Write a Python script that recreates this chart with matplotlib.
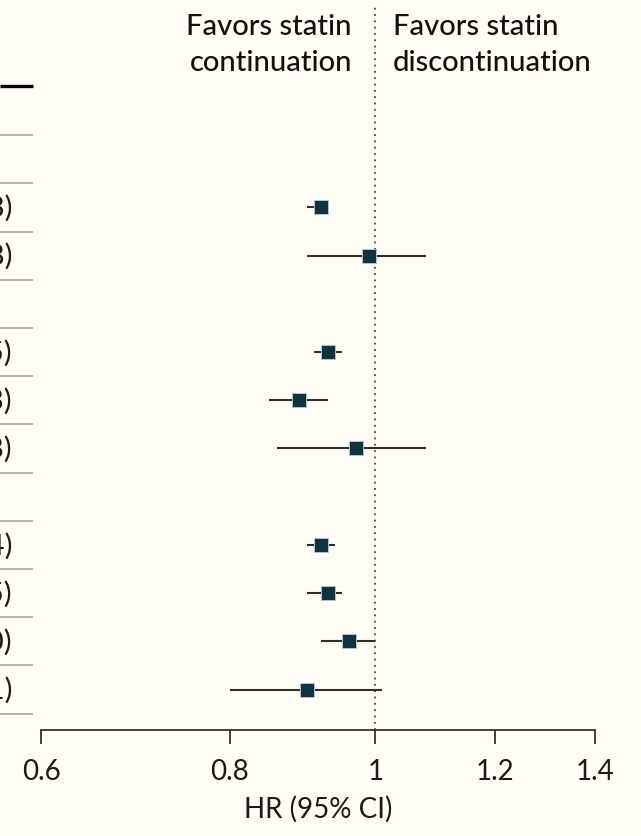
import numpy as np
import matplotlib.pyplot as plt
from matplotlib.transforms import blended_transform_factory

plt.rcParams['font.family'] = ['Lato', 'DejaVu Sans']

# one entry per table row, None = subgroup header row (no estimate)
hr = [None, None, 0.92, 0.99, None, 0.93, 0.89, 0.97, None, 0.92, 0.93, 0.96, 0.90]
ci_lo = [None, None, 0.90, 0.90, None, 0.91, 0.85, 0.86, None, 0.90, 0.90, 0.92, 0.80]
ci_hi = [None, None, 0.93, 1.08, None, 0.95, 0.93, 1.08, None, 0.94, 0.95, 1.00, 1.01]

xticks = [0.6, 0.8, 1, 1.2, 1.4]
xtick_labels = ['0.6', '0.8', '1', '1.2', '1.4']
left_label = 'Favors statin\ncontinuation'
right_label = 'Favors statin\ndiscontinuation'
xlabel = 'HR (95% CI)'

bg = '#fffdf6'
W, H = 641, 837
fig = plt.figure(figsize=(W / 100, H / 100), dpi=100, facecolor=bg)
ax_l, ax_w = 41.5, 554
ax = fig.add_axes([ax_l / W, (H - 731) / H, ax_w / W, (731 - 7) / H])
ax.set_facecolor(bg)

ax.set_xscale('log')
ax.set_xlim(0.6, 1.4)
ax.set_ylim(12.84, -2.18)

rows = np.arange(len(hr))
for i in rows:
    if hr[i] is None:
        continue
    ax.hlines(i, ci_lo[i], ci_hi[i], color='#2e2e2e', lw=1.5, zorder=2)
    ax.plot(hr[i], i, marker='s', ms=9.5, mfc='#0e3442', mec='#b8c2c4',
            mew=0.7, zorder=3)

ax.axvline(1, color='#444444', lw=1.3, ls=(0, (1, 2.5)), zorder=1)

# cut-off table on the left
trans = blended_transform_factory(ax.transAxes, ax.transData)
x0, x1 = -ax_l / ax_w, (33 - ax_l) / ax_w
ax.plot([x0, x1], [-0.52, -0.52], color='black', lw=2.4, transform=trans,
        clip_on=False, solid_capstyle='butt')
for k in range(len(hr)):
    ax.plot([x0, x1], [k + 0.5, k + 0.5], color='#a0a0a0', lw=1.1,
            transform=trans, clip_on=False, solid_capstyle='butt')
for i in rows:
    if hr[i] is None:
        continue
    ax.text((12 - ax_l) / ax_w, i, f'{hr[i]:.2f} ({ci_lo[i]:.2f}-{ci_hi[i]:.2f})',
            ha='right', va='center', fontsize=21, color='#1a1a1a',
            transform=trans, clip_on=False)

for s in ['top', 'right', 'left']:
    ax.spines[s].set_visible(False)
ax.spines['bottom'].set_color('#333333')
ax.spines['bottom'].set_linewidth(1.3)
ax.set_yticks([])
ax.xaxis.set_minor_locator(plt.NullLocator())
ax.set_xticks(xticks)
ax.set_xticklabels(xtick_labels)
ax.tick_params(axis='x', direction='out', length=10, width=1.3,
               color='#333333', pad=10, labelsize=20, labelcolor='#1a1a1a')
ax.set_xlabel(xlabel, fontsize=20, color='#1a1a1a', labelpad=8)

hdr = dict(fontsize=21, color='#111111', va='baseline', fontweight='medium')
l1, l2 = left_label.split('\n')
r1, r2 = right_label.split('\n')
fig.text(352 / W, 1 - 35 / H, l1, ha='right', **hdr)
fig.text(352 / W, 1 - 71 / H, l2, ha='right', **hdr)
fig.text(393 / W, 1 - 35 / H, r1, ha='left', **hdr)
fig.text(393 / W, 1 - 71 / H, r2, ha='left', **hdr)

fig.savefig('out.png', dpi=100, facecolor=bg)
